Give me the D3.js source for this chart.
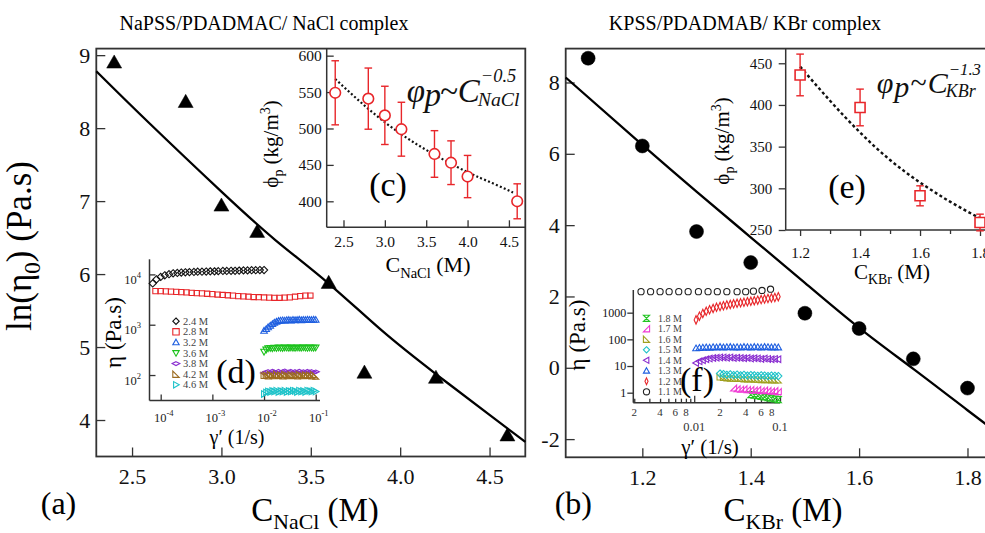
<!DOCTYPE html>
<meta charset="utf-8">
<style>
  body { margin: 0; background: #fff; }
  svg { display: block; }
  svg text { font-family: "Liberation Serif", "Times New Roman", serif; }
</style>
<body>
<script src="https://cdn.jsdelivr.net/npm/d3@7"></script>
<script>
// ---------- data ----------
// (a) zero-shear viscosity, NaPSS/PDADMAC/NaCl
const naclConc   = [2.4, 2.8, 3.0, 3.2, 3.6, 3.8, 4.2, 4.6];
const lnEtaNaCl  = [8.90, 8.36, 6.94, 6.58, 5.88, 4.65, 4.58, 3.79];
const fitNaClX   = [2.3, 2.6, 3.0, 3.3, 3.6, 3.9, 4.2, 4.5, 4.7];
const fitNaClY   = [8.78, 8.06, 7.13, 6.47, 5.87, 5.22, 4.63, 4.07, 3.70];

// (b) KPSS/PDADMAB/KBr
const kbrConc    = [1.1, 1.2, 1.3, 1.4, 1.5, 1.6, 1.7, 1.8];
const lnEtaKBr   = [8.68, 6.22, 3.82, 2.95, 1.53, 1.10, 0.25, -0.57];
const fitKBrX    = [1.0586, 1.2, 1.3, 1.4, 1.5, 1.6, 1.7, 1.8, 1.86];
const fitKBrY    = [8.14, 6.25, 4.94, 3.66, 2.38, 1.12, -0.03, -1.19, -1.88];

// (c) polymer density vs NaCl
const phiNaClX   = [2.4, 2.8, 3.0, 3.2, 3.6, 3.8, 4.0, 4.6];
const phiNaCl    = [549, 541, 518, 499, 465, 453, 434, 400];
const phiNaClErr = [44, 42, 40, 37, 32, 30, 29, 24];
const fitPhiNaClX = [2.4, 2.8, 3.2, 3.6, 4.0, 4.3, 4.55];
const fitPhiNaClY = [568, 527, 492, 464, 440, 425, 412];

// (e) polymer density vs KBr
const phiKBrX    = [1.2, 1.4, 1.6, 1.8];
const phiKBr     = [436, 397, 291, 259];
const phiKBrErr  = [25, 22, 12, 10];
const fitPhiKBrX = [1.2, 1.3, 1.4, 1.5, 1.6, 1.7, 1.8];
const fitPhiKBrY = [446, 405, 367, 334, 307, 284, 264];

// (d) flow curves, NaCl series
const gammaD24 = [7.0e-5, 8.3e-5, 1.0e-4, 1.2e-4, 1.45e-4, 1.74e-4, 2.1e-4, 2.5e-4, 3.0e-4, 3.6e-4,
  4.4e-4, 5.2e-4, 6.3e-4, 7.6e-4, 9.1e-4, 1.1e-3, 1.3e-3, 1.6e-3, 1.9e-3, 2.3e-3,
  2.75e-3, 3.3e-3, 4.0e-3, 4.8e-3, 5.75e-3, 6.9e-3, 8.3e-3, 1.0e-2];
const etaD24 = [6600, 8000, 8900, 9600, 10100, 10500, 10700, 10900, 11000, 11100,
  11200, 11300, 11300, 11400, 11500, 11500, 11600, 11700, 11700, 11800,
  11800, 11900, 12000, 12000, 12100, 12100, 12200, 12200];
const gammaD28 = [7.9e-5, 1.0e-4, 1.26e-4, 1.58e-4, 2.0e-4, 2.5e-4, 3.16e-4, 3.98e-4, 5.0e-4, 6.3e-4,
  7.9e-4, 1.0e-3, 1.26e-3, 1.58e-3, 2.0e-3, 2.5e-3, 3.16e-3, 3.98e-3, 5.0e-3, 6.3e-3,
  7.9e-3, 1.0e-2, 1.26e-2, 1.58e-2, 2.0e-2, 2.5e-2, 3.16e-2, 3.98e-2, 5.0e-2, 6.3e-2, 7.9e-2];
const etaD28 = [4650, 4650, 4600, 4550, 4500, 4450, 4400, 4300, 4250, 4200,
  4120, 4050, 3980, 3900, 3850, 3780, 3700, 3650, 3600, 3550,
  3520, 3480, 3450, 3430, 3430, 3450, 3500, 3600, 3700, 3780, 3800];
const gammaHi = [0.0100, 0.0110, 0.0120, 0.0132, 0.0145, 0.0158, 0.0174, 0.0191, 0.0209, 0.0229,
  0.0251, 0.0275, 0.0302, 0.0331, 0.0363, 0.0398, 0.0437, 0.0479, 0.0525, 0.0575,
  0.0631, 0.0692, 0.0759, 0.0832, 0.0912, 0.1000];
const etaD32 = [760, 820, 890, 960, 1030, 1100, 1150, 1190, 1210, 1220, 1210, 1230, 1240,
  1220, 1250, 1230, 1240, 1260, 1230, 1250, 1240, 1260, 1250, 1240, 1260, 1250];
const etaD36 = [290, 320, 340, 345, 340, 350, 345, 352, 348, 345, 352, 350, 347,
  353, 349, 346, 352, 350, 348, 354, 350, 347, 352, 350, 349, 353];
const etaD38 = [110, 114, 118, 112, 120, 115, 110, 119, 113, 117, 121, 112, 116,
  119, 111, 118, 114, 120, 113, 117, 112, 119, 115, 118, 112, 116];
const etaD42 = [98, 100, 96, 103, 99, 97, 104, 98, 101, 96, 103, 99, 97,
  102, 98, 100, 96, 103, 99, 97, 101, 98, 100, 96, 102, 95];
const etaD46 = [42, 45, 47, 46, 48, 47, 49, 46, 48, 47, 49, 46, 48,
  47, 49, 48, 46, 49, 47, 48, 46, 49, 48, 47, 49, 47];

// (f) flow curves, KBr series
const gammaF11 = [0.0024, 0.0031, 0.0040, 0.0051, 0.0066, 0.0085, 0.0112, 0.0145,
  0.0186, 0.0240, 0.0316, 0.0398, 0.0490, 0.0617, 0.0776];
const etaF11 = [6150, 6150, 6150, 6150, 6150, 6150, 6150, 6150, 6150, 6150, 6150, 6150, 6400, 6800, 7600];
const gammaF = [0.0105, 0.0115, 0.0126, 0.0138, 0.0151, 0.0166, 0.0182, 0.0200, 0.0219, 0.0240,
  0.0263, 0.0288, 0.0316, 0.0347, 0.0380, 0.0417, 0.0457, 0.0501, 0.0550, 0.0603,
  0.0661, 0.0724, 0.0794, 0.0871, 0.0955];
const etaF12 = [537, 741, 933, 1122, 1288, 1445, 1585, 1700, 1820, 1950, 2040, 2140, 2240,
  2340, 2450, 2570, 2690, 2820, 2950, 3090, 3240, 3390, 3550, 3720, 3980];
const etaF13 = [46, 48, 49, 50, 49, 51, 50, 52, 50, 51, 52, 50, 51, 50, 52, 51, 50, 52, 51, 50, 52, 51, 50, 51, 50];
const etaF14 = [13, 15, 16.5, 18, 19, 20, 20.5, 21, 21, 20.5, 21, 20, 20.5, 20, 19.5, 20, 19, 19.5,
  19, 18.5, 19, 18.5, 18, 18.5, 18];
const etaF15 = [null, null, null, null, null, null, null, 5.2, 5.0, 4.7, 4.9, 4.6, 4.8, 4.5, 4.7,
  4.4, 4.6, 4.5, 4.3, 4.5, 4.4, 4.2, 4.4, 4.3, 4.2];
const etaF16 = [null, null, null, null, null, null, null, 3.9, 3.7, 3.6, 3.5, 3.5, 3.4, 3.4, 3.3,
  3.3, 3.3, 3.2, 3.2, 3.1, 3.1, 3.1, 3.0, 3.0, 3.0];
const etaF17 = [null, null, null, null, null, null, null, null, null, null, null, 1.5, 1.4, 1.35,
  1.4, 1.3, 1.3, 1.25, 1.3, 1.2, 1.25, 1.2, 1.15, 1.2, 1.1];
const etaF18 = [null, null, null, null, null, null, null, null, null, null, null, null, null, null,
  null, null, 0.85, 0.8, 0.78, 0.72, 0.7, 0.65, 0.62, 0.58, 0.55];

// ---------- setup ----------
const SERIF = "Liberation Serif, Times New Roman, serif";
const FRAME = "#333";
const RED = "#e8262a";
const svg = d3.select("body").append("svg").attr("width", 985).attr("height", 533);

function shapePath(shape, s) {
  switch (shape) {
    case "circle": return `M${-s},0a${s},${s} 0 1,0 ${2 * s},0a${s},${s} 0 1,0 ${-2 * s},0Z`;
    case "square": return `M${-s},${-s}H${s}V${s}H${-s}Z`;
    case "diamond": return `M0,${-s}L${s},0L0,${s}L${-s},0Z`;
    case "diamondWide": return `M0,${-s * 0.6}L${s * 1.2},0L0,${s * 0.6}L${-s * 1.2},0Z`;
    case "diamondThin": return `M0,${-s * 1.1}L${s * 0.5},0L0,${s * 1.1}L${-s * 0.5},0Z`;
    case "triUp": return `M0,${-s}L${s},${s * 0.75}L${-s},${s * 0.75}Z`;
    case "triDown": return `M0,${s}L${s},${-s * 0.75}L${-s},${-s * 0.75}Z`;
    case "triLeft": return `M${-s},0L${s * 0.75},${-s}L${s * 0.75},${s}Z`;
    case "triRight": return `M${s},0L${-s * 0.75},${-s}L${-s * 0.75},${s}Z`;
    case "rtBL": return `M${-s},${-s}L${-s},${s}L${s},${s}Z`;
    case "rtBR": return `M${s},${-s}L${s},${s}L${-s},${s}Z`;
    case "bowtie": return `M${-s},${-s}L${s},${-s}L${-s},${s}L${s},${s}Z`;
  }
}

function pairs(xs, ys) {
  return xs.map((v, i) => [v, ys[i]]).filter(d => d[1] != null);
}

function markers(pts, x, y, shape, r, color, fill, sw) {
  svg.append("g").selectAll("path").data(pts).join("path")
    .attr("transform", d => `translate(${x(d[0])},${y(d[1])})`)
    .attr("d", shapePath(shape, r))
    .attr("fill", fill || "none")
    .attr("stroke", color)
    .attr("stroke-width", sw || 1.1);
}

function axis(gen, scale, tx, ty, vals, o) {
  const a = gen(scale).tickValues(vals).tickSizeOuter(0).tickSizeInner(o.tick)
    .tickPadding(o.pad).tickFormat(o.fmt || (d => d));
  const g = svg.append("g").attr("transform", `translate(${tx},${ty})`).call(a)
    .attr("font-family", SERIF).attr("font-size", o.fs);
  g.select(".domain").remove();
  g.selectAll(".tick line").attr("stroke", FRAME).attr("stroke-width", o.sw || 1.3);
  g.selectAll(".tick text").attr("fill", "#111");
  return g;
}

function hline(x1, x2, y, w) {
  svg.append("line").attr("x1", x1).attr("x2", x2).attr("y1", y).attr("y2", y)
    .attr("stroke", FRAME).attr("stroke-width", w || 1.5);
}
function vline(x, y1, y2, w) {
  svg.append("line").attr("x1", x).attr("x2", x).attr("y1", y1).attr("y2", y2)
    .attr("stroke", FRAME).attr("stroke-width", w || 1.5);
}

// text with subscript / superscript pieces: parts = [[text, "n"|"sub"|"sup"], ...]
function richText(g, parts, fs, subScale) {
  const t = g.append("text").attr("font-size", fs);
  let shift = 0;
  parts.forEach(([s, kind]) => {
    const target = kind === "sub" ? fs * 0.25 : kind === "sup" ? -fs * 0.38 : 0;
    t.append("tspan").attr("dy", target - shift)
      .attr("font-size", kind === "n" ? fs : fs * (subScale || 0.66)).text(s);
    shift = target;
  });
  return t;
}

function label(parts, x, y, fs, rotate, anchor) {
  const g = svg.append("g").attr("transform", `translate(${x},${y})` + (rotate ? " rotate(-90)" : ""));
  const t = richText(g, parts, fs);
  t.attr("text-anchor", anchor || "middle");
  if (rotate) t.attr("dy", "0.35em");
  return t;
}

// φp ~ C^sup_sub, main part stretched to the width seen in the figure
function powerLaw(x, y, fs, width, sub, sup) {
  const t = svg.append("text").attr("x", x).attr("y", y).attr("font-size", fs)
    .attr("font-style", "italic").attr("fill", "#111")
    .attr("textLength", width).attr("lengthAdjust", "spacing");
  t.append("tspan").text("φ");
  t.append("tspan").attr("dy", fs * 0.12).text("p");
  t.append("tspan").attr("dy", -fs * 0.12).attr("font-style", "normal").text("~");
  t.append("tspan").text("C");
  const xe = x + width;
  svg.append("text").attr("x", xe + 1).attr("y", y - fs * 0.6).attr("font-size", fs * 0.56)
    .attr("font-style", "italic").attr("fill", "#111").text(sup);
  svg.append("text").attr("x", xe - 2).attr("y", y + fs * 0.12).attr("font-size", fs * 0.6)
    .attr("font-style", "italic").attr("fill", "#111").text(sub);
}

const fitLine = (x, y) => d3.line().x(d => x(d[0])).y(d => y(d[1])).curve(d3.curveNatural);

// ---------- titles ----------
svg.append("text").attr("x", 264).attr("y", 30).attr("font-size", 20).attr("text-anchor", "middle")
  .text("NaPSS/PDADMAC/ NaCl complex");
svg.append("text").attr("x", 745).attr("y", 30).attr("font-size", 20).attr("text-anchor", "middle")
  .text("KPSS/PDADMAB/ KBr complex");

// ---------- panel (a) ----------
const xA = d3.scaleLinear([2.3, 4.7], [96.3, 525.3]);
const yA = d3.scaleLinear([3.5, 9.09], [456.5, 48.6]);
axis(d3.axisLeft, yA, 96.3, 0, [4, 5, 6, 7, 8, 9], { tick: -9, pad: 6, fs: 22 });
axis(d3.axisBottom, xA, 0, 456.5, [2.5, 3.0, 3.5, 4.0, 4.5], { tick: -9, pad: 12, fs: 22, fmt: d3.format(".1f") });
svg.append("rect").attr("x", 96.3).attr("y", 48.6).attr("width", 525.3 - 96.3).attr("height", 456.5 - 48.6)
  .attr("fill", "none").attr("stroke", FRAME).attr("stroke-width", 1.8);
svg.append("path").datum(pairs(fitNaClX, fitNaClY)).attr("d", fitLine(xA, yA))
  .attr("fill", "none").attr("stroke", "#000").attr("stroke-width", 2.3);
markers(pairs(naclConc, lnEtaNaCl), xA, yA, "triUp", 7.5, "#000", "#000", 0.5);
label([["ln(η", "n"], ["0", "sub"], [") (Pa.s)", "n"]], 31, 246, 35, true);
label([["C", "n"], ["NaCl", "sub"], [" (M)", "n"]], 315, 521, 33);
svg.append("text").attr("x", 58.5).attr("y", 514).attr("font-size", 32).attr("text-anchor", "middle").text("(a)");

// ---------- panel (b) ----------
const xB = d3.scaleLinear([1.0586, 1.86], [565.7, 1000]);
const yB = d3.scaleLinear([-2.51, 8.95], [457.3, 48.6]);
axis(d3.axisLeft, yB, 565.7, 0, [-2, 0, 2, 4, 6, 8], { tick: -9, pad: 6, fs: 22, fmt: d => d < 0 ? "-" + (-d) : d });
axis(d3.axisBottom, xB, 0, 457.3, [1.2, 1.4, 1.6, 1.8], { tick: -9, pad: 12, fs: 22, fmt: d3.format(".1f") });
svg.append("rect").attr("x", 565.7).attr("y", 48.6).attr("width", 1000 - 565.7).attr("height", 457.3 - 48.6)
  .attr("fill", "none").attr("stroke", FRAME).attr("stroke-width", 1.8);
svg.append("path").datum(pairs(fitKBrX, fitKBrY)).attr("d", fitLine(xB, yB))
  .attr("fill", "none").attr("stroke", "#000").attr("stroke-width", 2.3);
markers(pairs(kbrConc, lnEtaKBr), xB, yB, "circle", 7, "#000", "#000", 0.5);
label([["C", "n"], ["KBr", "sub"], [" (M)", "n"]], 783, 521, 33);
svg.append("text").attr("x", 573.3).attr("y", 514).attr("font-size", 32).attr("text-anchor", "middle").text("(b)");

// ---------- inset (c) ----------
const xC = d3.scaleLinear([2.297, 4.698], [326.7, 525.3]);
const yC = d3.scaleLinear([364.3, 609.7], [227.3, 48.6]);
axis(d3.axisLeft, yC, 326.7, 0, [400, 450, 500, 550, 600], { tick: -7, pad: 5, fs: 15.5 });
axis(d3.axisBottom, xC, 0, 227.3, [2.5, 3.0, 3.5, 4.0, 4.5], { tick: -7, pad: 9, fs: 15.5, fmt: d3.format(".1f") });
vline(326.7, 48.6, 227.3);
hline(326.7, 525.3, 227.3);
svg.append("path").datum(pairs(fitPhiNaClX, fitPhiNaClY)).attr("d", fitLine(xC, yC))
  .attr("fill", "none").attr("stroke", "#111").attr("stroke-width", 2.2).attr("stroke-dasharray", "2,2.3");
const errC = svg.append("g").attr("stroke", RED).attr("stroke-width", 1.4);
phiNaClX.forEach((c, i) => {
  const x = xC(c), y1 = yC(phiNaCl[i] + phiNaClErr[i]), y2 = yC(phiNaCl[i] - phiNaClErr[i]);
  errC.append("line").attr("x1", x).attr("x2", x).attr("y1", y1).attr("y2", y2);
  errC.append("line").attr("x1", x - 3.8).attr("x2", x + 3.8).attr("y1", y1).attr("y2", y1);
  errC.append("line").attr("x1", x - 3.8).attr("x2", x + 3.8).attr("y1", y2).attr("y2", y2);
});
markers(pairs(phiNaClX, phiNaCl), xC, yC, "circle", 5.3, RED, "#fff", 1.6);
label([["ϕ", "n"], ["p", "sub"], [" (kg/m", "n"], ["3", "sup"], [")", "n"]], 277.5, 144, 21, true);
label([["C", "n"], ["NaCl", "sub"], [" (M)", "n"]], 428, 272, 22);
svg.append("text").attr("x", 388).attr("y", 196).attr("font-size", 34).attr("text-anchor", "middle").text("(c)");
powerLaw(406.7, 101.7, 33, 73, "NaCl", "−0.5");

// ---------- inset (e) ----------
const xE = d3.scaleLinear([1.152, 1.85], [785.7, 995]);
const yE = d3.scaleLinear([250, 467.6], [230, 48.6]);
axis(d3.axisLeft, yE, 785.7, 0, [250, 300, 350, 400, 450], { tick: 7, pad: 6.5, fs: 15 });
axis(d3.axisBottom, xE, 0, 230, [1.2, 1.4, 1.6, 1.8], { tick: 6, pad: 11, fs: 15, fmt: d3.format(".1f") });
axis(d3.axisBottom, xE, 0, 230, [1.3, 1.5, 1.7], { tick: 4, pad: 0, fs: 1, fmt: () => "" });
vline(785.7, 48.6, 230);
hline(785.7, 995, 230);
svg.append("path").datum(pairs(fitPhiKBrX, fitPhiKBrY)).attr("d", fitLine(xE, yE))
  .attr("fill", "none").attr("stroke", "#111").attr("stroke-width", 2.4).attr("stroke-dasharray", "3,2.6");
const errE = svg.append("g").attr("stroke", RED).attr("stroke-width", 1.4);
phiKBrX.forEach((c, i) => {
  const x = xE(c), y1 = yE(phiKBr[i] + phiKBrErr[i]), y2 = yE(phiKBr[i] - phiKBrErr[i]);
  errE.append("line").attr("x1", x).attr("x2", x).attr("y1", y1).attr("y2", y2);
  errE.append("line").attr("x1", x - 3.8).attr("x2", x + 3.8).attr("y1", y1).attr("y2", y1);
  errE.append("line").attr("x1", x - 3.8).attr("x2", x + 3.8).attr("y1", y2).attr("y2", y2);
});
markers(pairs(phiKBrX, phiKBr), xE, yE, "square", 5, RED, "#fff", 1.6);
label([["ϕ", "n"], ["p", "sub"], [" (kg/m", "n"], ["3", "sup"], [")", "n"]], 729, 141, 21, true);
label([["C", "n"], ["KBr", "sub"], [" (M)", "n"]], 892, 279, 21);
svg.append("text").attr("x", 847).attr("y", 197.5).attr("font-size", 34).attr("text-anchor", "middle").text("(e)");
powerLaw(876.7, 93.3, 30, 71, "KBr", "−1.3");

// ---------- inset (d) ----------
const xD = d3.scaleLog([Math.pow(10, -4.207), Math.pow(10, -0.917)], [150, 320]);
const yD = d3.scaleLog([Math.pow(10, 1.494), Math.pow(10, 4.30)], [400.5, 259.3]);
axis(d3.axisLeft, yD, 149.5, 0, [1e2, 1e3, 1e4], { tick: -6, pad: 0, fs: 1, fmt: () => "" });
axis(d3.axisBottom, xD, 0, 400.5, [1e-4, 1e-3, 1e-2, 1e-1], { tick: -6, pad: 0, fs: 1, fmt: () => "" });
vline(149.5, 259.3, 400.5);
hline(149.5, 320, 400.5);
[[1e2, "2"], [1e3, "3"], [1e4, "4"]].forEach(([v, e]) => {
  const t = svg.append("text").attr("x", 141).attr("y", yD(v) + 9.5).attr("text-anchor", "end")
    .attr("font-size", 12.5).attr("fill", "#222");
  t.append("tspan").text("10");
  t.append("tspan").attr("font-size", 8.5).attr("dy", -6).text(e);
});
[[1e-4, "-4"], [1e-3, "-3"], [1e-2, "-2"], [1e-1, "-1"]].forEach(([v, e]) => {
  const t = svg.append("text").attr("x", xD(v) + 3).attr("y", 422).attr("text-anchor", "middle")
    .attr("font-size", 12.5).attr("fill", "#222");
  t.append("tspan").text("10");
  t.append("tspan").attr("font-size", 8.5).attr("dy", -6).text(e);
});
const dSeries = [
  { name: "2.4 M", g: gammaD24, e: etaD24, shape: "diamond", r: 3.6, color: "#111" },
  { name: "2.8 M", g: gammaD28, e: etaD28, shape: "square", r: 2.6, color: RED },
  { name: "3.2 M", g: gammaHi, e: etaD32, shape: "triUp", r: 3.3, color: "#1f5fe0" },
  { name: "3.6 M", g: gammaHi, e: etaD36, shape: "triDown", r: 3.3, color: "#1cc21c" },
  { name: "3.8 M", g: gammaHi, e: etaD38, shape: "diamondWide", r: 3, color: "#8a2ed0" },
  { name: "4.2 M", g: gammaHi, e: etaD42, shape: "rtBL", r: 3, color: "#9c6b1f" },
  { name: "4.6 M", g: gammaHi, e: etaD46, shape: "triRight", r: 3.3, color: "#1ec3c9" }
];
dSeries.forEach((s, i) => {
  markers(pairs(s.g, s.e), xD, yD, s.shape, s.r, s.color);
  const ly = 321.2 + i * 10.6;
  svg.append("path").attr("transform", `translate(176,${ly})`).attr("d", shapePath(s.shape, 3.2))
    .attr("fill", "none").attr("stroke", s.color).attr("stroke-width", 1.1);
  svg.append("text").attr("x", 183).attr("y", ly + 3.6).attr("font-size", 10.5).attr("fill", "#444").text(s.name);
});
label([["η (Pa.s)", "n"]], 120.5, 332.5, 23, true);
label([["γ′ (1/s)", "n"]], 237, 444, 20);
svg.append("text").attr("x", 236).attr("y", 383).attr("font-size", 34).attr("text-anchor", "middle").text("(d)");

// ---------- inset (f) ----------
const xF = d3.scaleLog([0.00195, 0.1], [633.3, 780]);
const yF = d3.scaleLog([Math.pow(10, -0.375), Math.pow(10, 3.85)], [402.7, 290]);
axis(d3.axisLeft, yF, 633.3, 0, [1, 10, 100, 1000], { tick: 6, pad: 1, fs: 12 });
axis(d3.axisBottom, xF, 0, 402.7, [0.01, 0.1], { tick: -7, pad: 0, fs: 1, fmt: () => "" });
const minorF = [0.002, 0.003, 0.004, 0.005, 0.006, 0.007, 0.008, 0.009,
  0.02, 0.03, 0.04, 0.05, 0.06, 0.07, 0.08, 0.09];
axis(d3.axisBottom, xF, 0, 402.7, minorF, { tick: -4, pad: 0, fs: 1, fmt: () => "" });
vline(633.3, 290, 402.7);
hline(633.3, 780, 402.7);
[0.002, 0.004, 0.006, 0.008, 0.02, 0.04, 0.06, 0.08].forEach(v => {
  svg.append("text").attr("x", xF(v)).attr("y", 416).attr("text-anchor", "middle")
    .attr("font-size", 11).attr("fill", "#333").text(String(v).replace(/0\.0*/, "")[0]);
});
[[0.01, "0.01"], [0.1, "0.1"]].forEach(([v, s]) => {
  svg.append("text").attr("x", xF(v)).attr("y", 430.5).attr("text-anchor", "middle")
    .attr("font-size", 12.5).attr("fill", "#333").text(s);
});
const fSeries = [
  { name: "1.8 M", g: gammaF, e: etaF18, shape: "bowtie", r: 3, color: "#22c422" },
  { name: "1.7 M", g: gammaF, e: etaF17, shape: "rtBR", r: 3, color: "#f03ad4" },
  { name: "1.6 M", g: gammaF, e: etaF16, shape: "rtBL", r: 3, color: "#a0a020" },
  { name: "1.5 M", g: gammaF, e: etaF15, shape: "diamond", r: 3.6, color: "#1ec3c9" },
  { name: "1.4 M", g: gammaF, e: etaF14, shape: "triLeft", r: 3.3, color: "#8a2ed0" },
  { name: "1.3 M", g: gammaF, e: etaF13, shape: "triUp", r: 3.3, color: "#1f5fe0" },
  { name: "1.2 M", g: gammaF, e: etaF12, shape: "diamondThin", r: 3.8, color: RED },
  { name: "1.1 M", g: gammaF11, e: etaF11, shape: "circle", r: 3.1, color: "#222" }
];
fSeries.forEach((s, i) => {
  markers(pairs(s.g, s.e), xF, yF, s.shape, s.r, s.color);
  const ly = 318.3 + i * 10.5;
  svg.append("path").attr("transform", `translate(646.5,${ly})`).attr("d", shapePath(s.shape, 3.1))
    .attr("fill", "none").attr("stroke", s.color).attr("stroke-width", 1.1);
  svg.append("text").attr("x", 658).attr("y", ly + 3.5).attr("font-size", 10).attr("fill", "#444").text(s.name);
});
label([["η (Pa.s)", "n"]], 585, 335, 23, true);
label([["γ′ (1/s)", "n"]], 710, 453.5, 21);
svg.append("text").attr("x", 697).attr("y", 391).attr("font-size", 34).attr("text-anchor", "middle").text("(f)");
</script>
</body>
</html>
